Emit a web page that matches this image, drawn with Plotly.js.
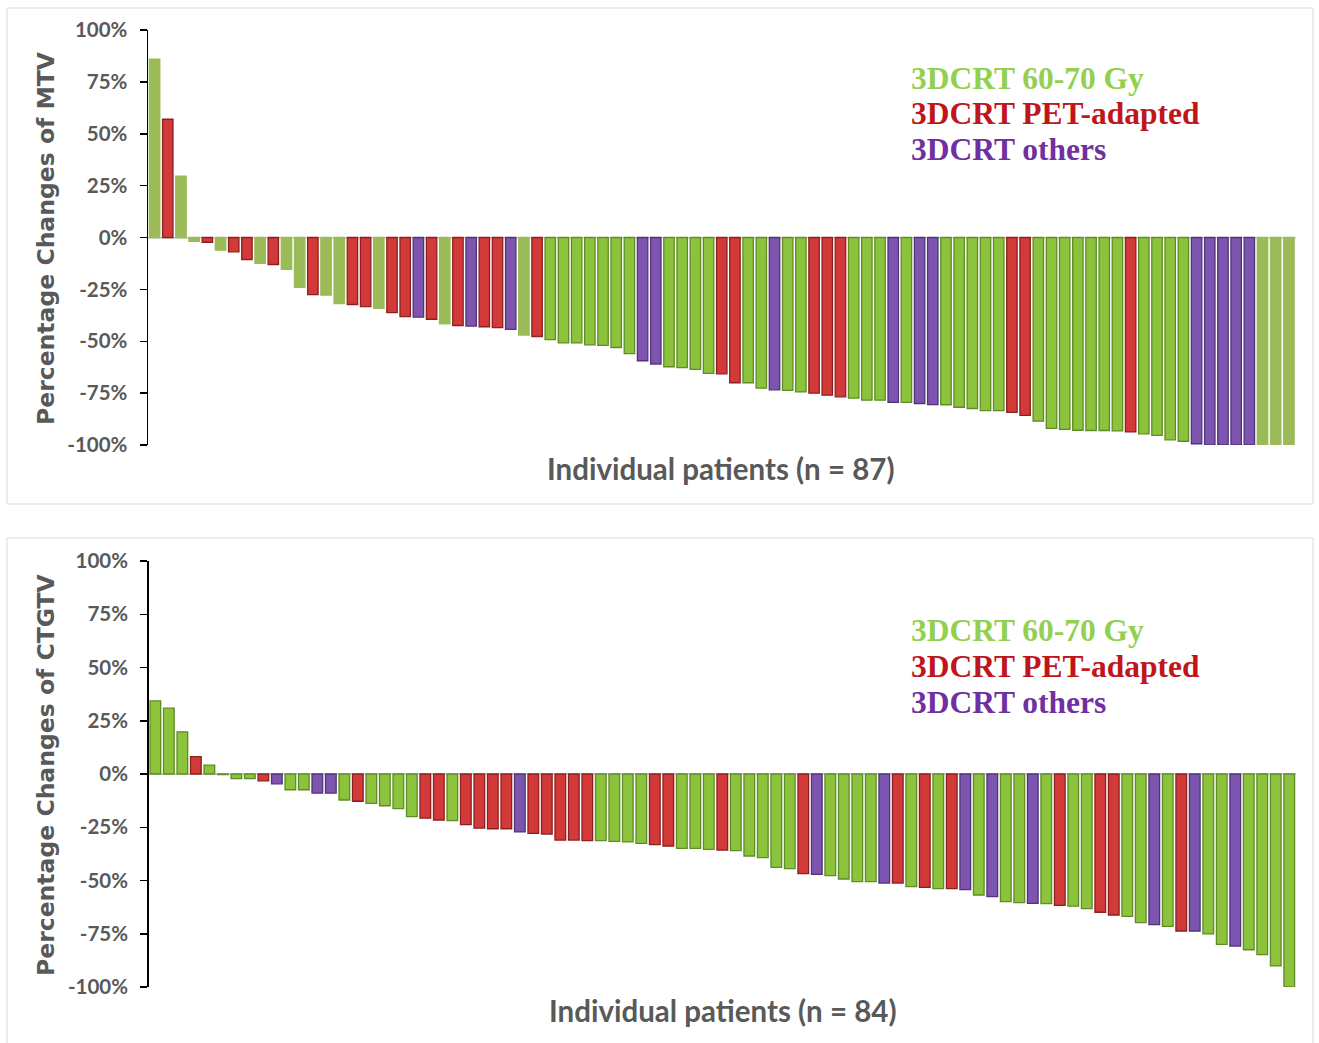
<!DOCTYPE html>
<html>
<head>
<meta charset="utf-8">
<script src="https://cdn.plot.ly/plotly-3.0.1.min.js"></script>
<style>
  html, body { margin: 0; padding: 0; background: #ffffff; }
  #chart { width: 1319px; height: 1043px; }
</style>
</head>
<body>
<div id="chart"></div>
<script>
// ---------- DATA ----------
// Group codes: L = 3DCRT 60-70 Gy (flat), G = 3DCRT 60-70 Gy, R = 3DCRT PET-adapted, P = 3DCRT others
const mtvValues = [
  86, 57, 29.6, -1.8, -2.3, -6.1, -6.9, -10.6, -12.5, -13,
  -15.4, -24, -27.5, -27.8, -31.8, -32.3, -33.3, -34.1, -36.2, -38.1,
  -38.4, -39.4, -41.6, -42.4, -42.7, -43, -43.4, -44.3, -47, -47.7,
  -49.2, -50.8, -50.8, -51.7, -52, -53, -56, -59.4, -61, -62.3,
  -62.7, -63.6, -65.5, -65.7, -70, -70, -72.6, -73.4, -73.7, -74.4,
  -75, -76, -76.8, -77.4, -78.4, -78.4, -79.5, -79.5, -80, -80.5,
  -80.6, -81.8, -82.4, -83.4, -83.4, -84.3, -85.7, -88.5, -92, -92.5,
  -92.9, -93, -93, -93.2, -93.7, -94.6, -95.4, -97.5, -98.2, -99.4,
  -100, -100, -100, -100, -100, -100, -100
];
const mtvGroups = [
  'L','R','L','L','R','L','R','R','L','R',
  'L','L','R','L','L','R','R','L','R','R',
  'P','R','L','R','P','R','R','P','L','R',
  'G','G','G','G','G','G','G','P','P','G',
  'G','G','G','R','R','G','G','P','G','G',
  'R','R','R','G','G','G','P','G','P','P',
  'G','G','G','G','G','R','R','G','G','G',
  'G','G','G','G','R','G','G','G','G','P',
  'P','P','P','P','L','L','L'
];
const ctgtvValues = [
  34.3, 30.9, 19.8, 8.2, 4.2, -0.3, -2.2, -2.2, -3.2, -4.6,
  -7.4, -7.4, -9, -9, -12.2, -12.8, -13.8, -14.9, -16.3, -20,
  -20.7, -21.6, -21.9, -23.8, -25.4, -25.7, -25.7, -27.2, -27.9, -28.2,
  -31, -31, -31.3, -31.3, -31.6, -31.9, -32.6, -33.2, -33.8, -34.9,
  -34.9, -35.4, -35.7, -36, -38.5, -39.3, -43.8, -44.4, -46.8, -47.1,
  -47.7, -49.3, -50.5, -50.5, -51.2, -51.2, -52.9, -53.2, -53.8, -53.8,
  -54.3, -56.8, -57.6, -59.9, -60.4, -60.7, -60.9, -61.7, -62, -63.2,
  -64.9, -66.2, -66.8, -69.8, -70.7, -71.5, -73.7, -73.7, -75.1, -80,
  -80.8, -82.5, -84.8, -90.1, -100
];
const ctgtvGroups = [
  'G','G','G','R','G','G','G','G','R','P',
  'G','G','P','P','G','R','G','G','G','G',
  'R','R','G','R','R','R','R','P','R','R',
  'R','R','R','G','G','G','G','R','R','G',
  'G','G','R','G','G','G','G','G','R','P',
  'G','G','G','G','P','R','G','R','G','R',
  'P','G','P','G','G','P','G','R','G','G',
  'R','R','G','G','P','G','R','P','G','G',
  'P','G','G','G','G'
];
const tickValues = [100, 75, 50, 25, 0, -25, -50, -75, -100];
const tickLabels = ['100%', '75%', '50%', '25%', '0%', '-25%', '-50%', '-75%', '-100%'];
const legendLabels = ['3DCRT 60-70 Gy', '3DCRT PET-adapted', '3DCRT others'];
const yTitles = ['Percentage Changes of MTV', 'Percentage Changes of CTGTV'];
const xTitles = ['Individual patients (n = 87)', 'Individual patients (n = 84)'];

// ---------- STYLE ----------
const fillColor = { L: '#9BBB59', G: '#8CC33C', R: '#D23A3A', P: '#7E55AE' };
const edgeColor = { L: '#9BBB59', G: '#5F8C24', R: '#8E1F1F', P: '#4F3479' };
const legendColors = ['#92D050', '#C0161B', '#7030A0'];
const W = 1319, H = 1043;
const px = x => x / W;
const py = y => 1 - y / H;

function barTrace(values, groups, xa, ya) {
  const xs = values.map((_, i) => i + 1);
  return {
    type: 'bar', x: xs, y: values, xaxis: xa, yaxis: ya,
    marker: {
      color: groups.map(g => fillColor[g]),
      line: { color: groups.map(g => edgeColor[g]), width: 1.3 }
    },
    hoverinfo: 'x+y', showlegend: false
  };
}

const yCommon = {
  range: [-100, 100], tickvals: tickValues, ticktext: tickLabels,
  showline: true, linecolor: '#000000', linewidth: 1.5,
  ticks: 'outside', ticklen: 7, tickwidth: 1.5, tickcolor: '#000000',
  showgrid: false, zeroline: true, zerolinecolor: '#D4D4D4', zerolinewidth: 2,
  tickfont: { family: 'Lato, "Open Sans", sans-serif', size: 20.5, color: '#595959', weight: 'bold' },
  ticklabelstandoff: 8, fixedrange: true
};
const xCommon = {
  showline: false, showgrid: false, zeroline: false, showticklabels: false, ticks: '',
  fixedrange: true
};

const annotations = [];
[0, 1].forEach(k => {
  legendLabels.forEach((t, j) => {
    annotations.push({
      text: '<b>' + t + '</b>', xref: 'paper', yref: 'paper',
      x: px(909), y: py((k === 0 ? 78 : 630) + 36 * j), xanchor: 'left', yanchor: 'middle',
      showarrow: false,
      font: { family: '"Liberation Serif", "Times New Roman", serif', size: 31.5, color: legendColors[j] }
    });
  });
  annotations.push({
    text: '<b>' + yTitles[k] + '</b>', xref: 'paper', yref: 'paper',
    x: px(46), y: py(k === 0 ? 238 : 775), xanchor: 'center', yanchor: 'middle',
    textangle: -90, showarrow: false,
    font: { family: '"DejaVu Sans", Verdana, sans-serif', size: 23.5, color: '#595959' }
  });
  annotations.push({
    text: '<b>' + xTitles[k] + '</b>', xref: 'paper', yref: 'paper',
    x: px(k === 0 ? 721 : 723), y: py(k === 0 ? 468 : 1010), xanchor: 'center', yanchor: 'middle',
    showarrow: false,
    font: { family: 'Lato, "Open Sans", sans-serif', size: 29.5, color: '#595959' }
  });
});

const shapes = [
  { type: 'rect', xref: 'paper', yref: 'paper', x0: px(7), x1: px(1313), y0: py(504), y1: py(8),
    line: { color: '#D9D9D9', width: 1 }, fillcolor: 'rgba(0,0,0,0)', layer: 'below' },
  { type: 'rect', xref: 'paper', yref: 'paper', x0: px(7), x1: px(1313), y0: py(1046), y1: py(538),
    line: { color: '#D9D9D9', width: 1 }, fillcolor: 'rgba(0,0,0,0)', layer: 'below' }
];

const layout = {
  width: W, height: H,
  margin: { l: 0, r: 0, t: 0, b: 0, pad: 0 },
  paper_bgcolor: '#FFFFFF', plot_bgcolor: 'rgba(0,0,0,0)',
  bargap: 0.21,
  showlegend: false,
  xaxis: Object.assign({}, xCommon, { domain: [px(148), px(1295.5)], range: [0.5, mtvValues.length + 0.5], anchor: 'y' }),
  yaxis: Object.assign({}, yCommon, { domain: [py(445), py(30)], anchor: 'x' }),
  xaxis2: Object.assign({}, xCommon, { domain: [px(148.6), px(1296)], range: [0.5, ctgtvValues.length + 0.5], anchor: 'y2' }),
  yaxis2: Object.assign({}, yCommon, { domain: [py(987), py(561)], anchor: 'x2' }),
  annotations: annotations,
  shapes: shapes
};

Plotly.newPlot('chart', [
  barTrace(mtvValues, mtvGroups, 'x', 'y'),
  barTrace(ctgtvValues, ctgtvGroups, 'x2', 'y2')
], layout, { displayModeBar: false, staticPlot: true });
</script>
</body>
</html>
